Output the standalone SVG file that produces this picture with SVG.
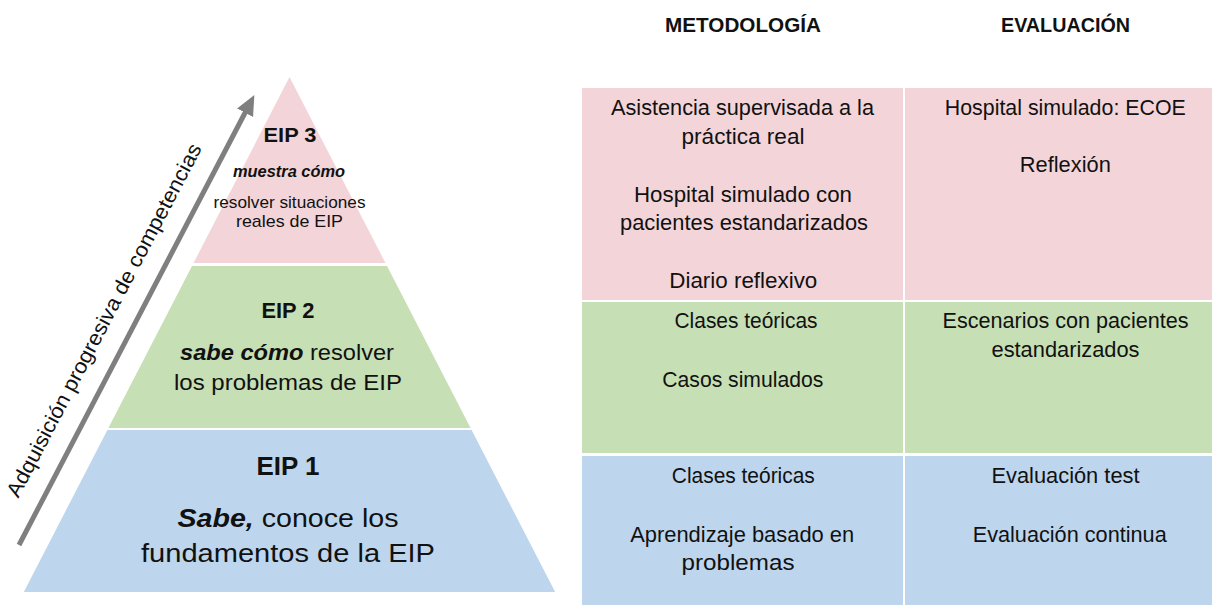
<svg xmlns="http://www.w3.org/2000/svg" width="1212" height="605" viewBox="0 0 1212 605">
<style>
text{font-family:"Liberation Sans",Arial,sans-serif;fill:#111;text-anchor:middle}
.t{font-size:22px}
.h{font-size:21px;font-weight:bold}
.b{font-weight:bold}
.bi{font-weight:bold;font-style:italic}
.pink{fill:#F3D5D9}
.green{fill:#C6DFB4}
.blue{fill:#BDD6EE}
.div{stroke:#fff;stroke-width:2}
</style>
<defs>
<marker id="ah" markerUnits="userSpaceOnUse" markerWidth="20" markerHeight="20" refX="2" refY="9" orient="auto" viewBox="0 0 20 18">
<path d="M0,0 L20,9 L0,18 Z" fill="#7F7F7F"/>
</marker>
</defs>
<rect width="1212" height="605" fill="#fff"/>

<g id="connectors">
<line x1="19" y1="545" x2="246" y2="111" stroke="#7F7F7F" stroke-width="5" marker-end="url(#ah)"/>
</g>
<text id="axis-label" transform="translate(110.3,323.5) rotate(-62.33)" font-size="21" textLength="396" lengthAdjust="spacingAndGlyphs">Adquisición progresiva de competencias</text>

<g id="eip3">
<polygon class="pink" points="289.5,77 385.5,263 193.5,263"/>
<text class="b" x="290" y="142" font-size="21" textLength="53" lengthAdjust="spacingAndGlyphs">EIP 3</text>
<text class="bi" x="289" y="177" font-size="16" textLength="112" lengthAdjust="spacingAndGlyphs">muestra cómo</text>
<text x="289.5" y="208" font-size="17" textLength="152" lengthAdjust="spacingAndGlyphs">resolver situaciones</text>
<text x="289.5" y="227" font-size="17" textLength="107" lengthAdjust="spacingAndGlyphs">reales de EIP</text>
</g>

<g id="eip2">
<polygon class="green" points="192,266 387,266 470.6,428 108.4,428"/>
<text class="b" x="288" y="318" font-size="22" textLength="53" lengthAdjust="spacingAndGlyphs">EIP 2</text>
<text x="287" y="360" font-size="22" textLength="214" lengthAdjust="spacingAndGlyphs"><tspan class="bi">sabe cómo</tspan> resolver</text>
<text x="288" y="390" font-size="22" textLength="228" lengthAdjust="spacingAndGlyphs">los problemas de EIP</text>
</g>

<g id="eip1">
<polygon class="blue" points="107.4,430 471.6,430 555.2,592 23.8,592"/>
<text class="b" x="288" y="475" font-size="26" textLength="63" lengthAdjust="spacingAndGlyphs">EIP 1</text>
<text x="288" y="527" font-size="25" textLength="221" lengthAdjust="spacingAndGlyphs"><tspan class="bi">Sabe,</tspan> conoce los</text>
<text x="288" y="562" font-size="25" textLength="294" lengthAdjust="spacingAndGlyphs">fundamentos de la EIP</text>
</g>

<g id="headers">
<text class="h" x="743" y="32" textLength="156" lengthAdjust="spacingAndGlyphs">METODOLOGÍA</text>
<text class="h" x="1065.5" y="32" textLength="129" lengthAdjust="spacingAndGlyphs">EVALUACIÓN</text>
</g>

<g id="row-eip3">
<rect class="pink" x="582" y="88" width="630" height="212"/>
<line class="div" x1="904" y1="88" x2="904" y2="300"/>
<text class="t" x="742.5" y="115" textLength="263" lengthAdjust="spacingAndGlyphs">Asistencia supervisada a la</text>
<text class="t" x="743" y="143.5" textLength="123" lengthAdjust="spacingAndGlyphs">práctica real</text>
<text class="t" x="743" y="201.5" textLength="218" lengthAdjust="spacingAndGlyphs">Hospital simulado con</text>
<text class="t" x="744" y="229.5" textLength="248" lengthAdjust="spacingAndGlyphs">pacientes estandarizados</text>
<text class="t" x="743.3" y="288" textLength="148" lengthAdjust="spacingAndGlyphs">Diario reflexivo</text>
<text class="t" x="1065.3" y="115" textLength="241" lengthAdjust="spacingAndGlyphs">Hospital simulado: ECOE</text>
<text class="t" x="1065.3" y="172" textLength="91" lengthAdjust="spacingAndGlyphs">Reflexión</text>
</g>

<g id="row-eip2">
<rect class="green" x="582" y="302" width="630" height="151"/>
<line class="div" x1="904" y1="302" x2="904" y2="453"/>
<text class="t" x="746" y="328.3" textLength="143" lengthAdjust="spacingAndGlyphs">Clases teóricas</text>
<text class="t" x="742.8" y="386.7" textLength="161" lengthAdjust="spacingAndGlyphs">Casos simulados</text>
<text class="t" x="1065.5" y="328.3" textLength="246" lengthAdjust="spacingAndGlyphs">Escenarios con pacientes</text>
<text class="t" x="1065.5" y="356.7" textLength="148" lengthAdjust="spacingAndGlyphs">estandarizados</text>
</g>

<g id="row-eip1">
<rect class="blue" x="582" y="456" width="630" height="149"/>
<line class="div" x1="904" y1="456" x2="904" y2="605"/>
<text class="t" x="743.3" y="483.3" textLength="143" lengthAdjust="spacingAndGlyphs">Clases teóricas</text>
<text class="t" x="742.2" y="541.7" textLength="224" lengthAdjust="spacingAndGlyphs">Aprendizaje basado en</text>
<text class="t" x="738" y="570" textLength="113" lengthAdjust="spacingAndGlyphs">problemas</text>
<text class="t" x="1065.5" y="483.3" textLength="148" lengthAdjust="spacingAndGlyphs">Evaluación test</text>
<text class="t" x="1069.7" y="541.7" textLength="194" lengthAdjust="spacingAndGlyphs">Evaluación continua</text>
</g>
</svg>
